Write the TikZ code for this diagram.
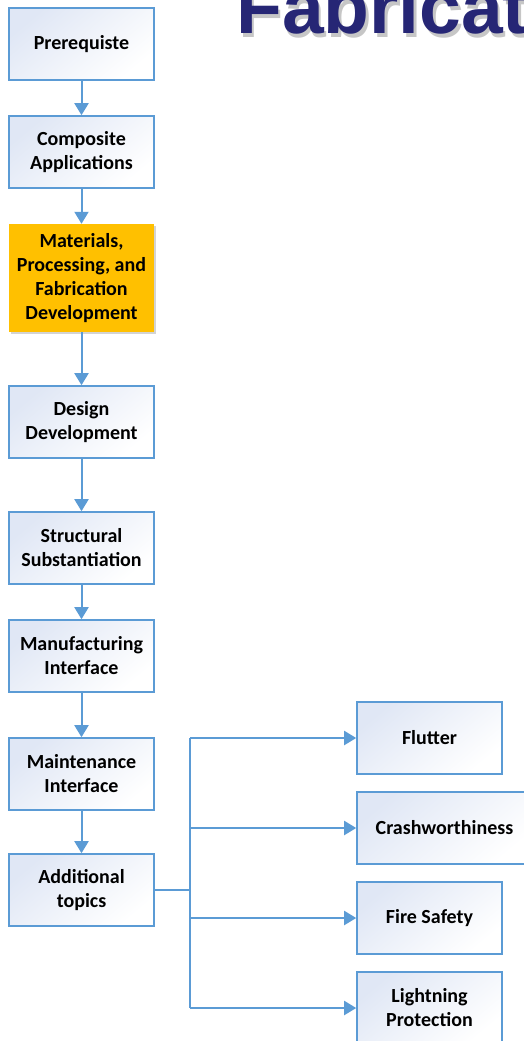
\documentclass[tikz,border=0pt]{standalone}
\usepackage{fontspec}
\usetikzlibrary{arrows.meta,shadows}
\newfontfamily\boxfont{Carlito}
\newfontfamily\titlefont{Liberation Sans}
\definecolor{lineblue}{RGB}{91,155,213}
\definecolor{boxtop}{RGB}{224,231,245}
\definecolor{orangefill}{RGB}{255,192,0}
\definecolor{titlenavy}{RGB}{38,38,117}
\tikzset{
  box/.style={draw=lineblue, line width=1.6pt, minimum width=145pt, minimum height=72pt,
    align=center, inner sep=3pt, font=\boxfont\bfseries\fontsize{20}{24}\selectfont,
    shade, top color=boxtop, bottom color=white, shading angle=40},
  hibox/.style={draw=none, fill=orangefill, minimum width=145pt, minimum height=108pt,
    align=center, inner sep=3pt, font=\boxfont\bfseries\fontsize{20}{24}\selectfont,
    drop shadow={shadow xshift=2pt, shadow yshift=-2pt, opacity=0.35, fill=gray}},
  arr/.style={draw=lineblue, line width=2pt, -{Triangle[length=12pt,width=14pt]}},
  link/.style={draw=lineblue, line width=2pt}
}
\begin{document}
\begin{tikzpicture}[x=1pt,y=-1pt]
\useasboundingbox (0,0) rectangle (524,1041);
\clip (0,0) rectangle (524,1041);
% title
\node[anchor=base west, inner sep=0pt, text=gray!45, font=\titlefont\bfseries\fontsize{75}{80}\selectfont] (titleshadow) at (238.5,37.5) {Fabricat};
\node[anchor=base west, inner sep=0pt, text=titlenavy, font=\titlefont\bfseries\fontsize{75}{80}\selectfont] (title) at (236,34) {Fabricat};
% left column
\node[box] (pre) at (81.5,44) {Prerequiste};
\node[box] (comp) at (81.5,152) {Composite\\Applications};
\node[hibox] (mat) at (81.5,278) {Materials,\\Processing, and\\Fabrication\\Development};
\node[box] (des) at (81.5,422) {Design\\Development};
\node[box] (str) at (81.5,548) {Structural\\Substantiation};
\node[box] (man) at (81.5,656) {Manufacturing\\Interface};
\node[box] (mai) at (81.5,774) {Maintenance\\Interface};
\node[box] (add) at (81.5,890) {Additional\\topics};
% right column
\node[box] (flu) at (429.5,738) {Flutter};
\node[box, minimum width=175pt] (cra) at (444.5,828) {Crashworthiness};
\node[box] (fir) at (429.5,918) {Fire Safety};
\node[box] (lig) at (429.5,1008) {Lightning\\Protection};
% connectors
\draw[arr] (pre) -- (comp);
\draw[arr] (comp) -- (mat);
\draw[arr] (mat) -- (des);
\draw[arr] (des) -- (str);
\draw[arr] (str) -- (man);
\draw[arr] (man) -- (mai);
\draw[arr] (mai) -- (add);
\coordinate (bus) at (190,890);
\coordinate (bustop) at (190,738);
\coordinate (busbot) at (190,1008);
\draw[link] (add.east) -- (bus);
\draw[link] (bustop) -- (busbot);
\draw[arr] (bustop) -- (flu.west);
\draw[arr] (bus |- cra.west) -- (cra.west);
\draw[arr] (bus |- fir.west) -- (fir.west);
\draw[arr] (busbot) -- (lig.west);
\end{tikzpicture}
\end{document}
